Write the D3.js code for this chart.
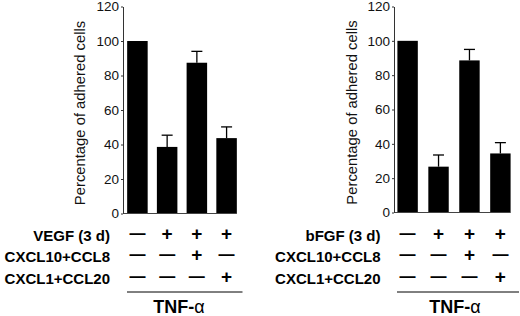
<!DOCTYPE html>
<html>
<head>
<meta charset="utf-8">
<script src="https://cdn.jsdelivr.net/npm/d3@7"></script>
<style>
  body { margin: 0; background: #fff; }
  svg { font-family: "Liberation Sans", Arial, sans-serif; }
</style>
</head>
<body>
<div id="container"></div>
<script>
/* DATA */
const conditions = ["c1", "c2", "c3", "c4"];
const yTicks = [0, 20, 40, 60, 80, 100, 120];
const rowLabels = ["CXCL10+CCL8", "CXCL1+CCL20"];
const row1 = ["—", "+", "+", "+"];
const row2 = ["—", "—", "+", "—"];
const row3 = ["—", "—", "—", "+"];

const vegfMean = [100, 38.6, 87.4, 43.7];
const vegfErr = [0, 6.8, 6.6, 6.5];
const bfgfMean = [100, 26.7, 88.6, 34.4];
const bfgfErr = [0, 6.8, 6.4, 6.3];

/* CONSTANTS */
const width = 520, height = 316;

const svg = d3.select("#container")
  .append("svg")
  .attr("width", width)
  .attr("height", height);

const panels = [
  {growth: "VEGF (3 d)", mean: vegfMean, err: vegfErr,
   xr: [123, 241], pin: 0.31, pout: 0.14, yr: [213.5, 6.5],
   labelEnd: 110, yLabelX: 85, lineX: [127, 242.5], tnfX: 179},
  {growth: "bFGF (3 d)", mean: bfgfMean, err: bfgfErr,
   xr: [394, 514], pin: 0.34, pout: 0.11, yr: [212.5, 6.5],
   labelEnd: 380.5, yLabelX: 357, lineX: [397, 519], tnfX: 455}
];

const rowY = [240.5, 262, 283.5];

panels.forEach(function(p) {
  // SCALES
  const xScale = d3.scaleBand()
    .domain(conditions)
    .range(p.xr)
    .paddingInner(p.pin)
    .paddingOuter(p.pout);

  const yScale = d3.scaleLinear()
    .domain([0, 120])
    .range(p.yr);

  const g = svg.append("g");

  // bars
  g.selectAll("rect.bar")
    .data(p.mean)
    .join("rect")
    .attr("class", "bar")
    .attr("x", (d, i) => xScale(conditions[i]))
    .attr("width", xScale.bandwidth())
    .attr("y", d => yScale(d))
    .attr("height", d => yScale(0) - yScale(d))
    .attr("fill", "#000");

  // error bars (upper only)
  const errData = p.mean.map((m, i) => ({m: m, e: p.err[i], c: conditions[i]}))
    .filter(d => d.e > 0);
  const cx = d => xScale(d.c) + xScale.bandwidth() / 2;
  g.selectAll("line.err")
    .data(errData)
    .join("line")
    .attr("x1", cx).attr("x2", cx)
    .attr("y1", d => yScale(d.m)).attr("y2", d => yScale(d.m + d.e))
    .attr("stroke", "#000").attr("stroke-width", 1.3);
  g.selectAll("line.cap")
    .data(errData)
    .join("line")
    .attr("x1", d => cx(d) - 5.5).attr("x2", d => cx(d) + 5.5)
    .attr("y1", d => yScale(d.m + d.e)).attr("y2", d => yScale(d.m + d.e))
    .attr("stroke", "#000").attr("stroke-width", 1.3);

  // baseline
  g.append("line")
    .attr("x1", p.xr[0]).attr("x2", xScale(conditions[3]) + xScale.bandwidth())
    .attr("y1", yScale(0)).attr("y2", yScale(0))
    .attr("stroke", "#444").attr("stroke-width", 1);

  // y axis
  const yAxis = g.append("g")
    .attr("transform", `translate(${p.xr[0]},0)`)
    .call(d3.axisLeft(yScale).tickValues(yTicks).tickSize(2).tickSizeOuter(0).tickPadding(2));
  yAxis.select(".domain").attr("stroke", "#333");
  yAxis.selectAll(".tick line").attr("stroke", "#333");
  yAxis.selectAll("text")
    .attr("font-size", 13.5)
    .attr("font-family", "Liberation Sans, Arial, sans-serif")
    .attr("fill", "#111");

  // y label
  g.append("text")
    .attr("transform", `translate(${p.yLabelX},${(p.yr[0] + p.yr[1]) / 2 + 3}) rotate(-90)`)
    .attr("text-anchor", "middle")
    .attr("font-size", 14.8)
    .attr("fill", "#111")
    .text("Percentage of adhered cells");

  // row labels
  const labels = [p.growth].concat(rowLabels);
  g.selectAll("text.rowlab")
    .data(labels)
    .join("text")
    .attr("class", "rowlab")
    .attr("x", p.labelEnd)
    .attr("y", (d, i) => rowY[i])
    .attr("text-anchor", "end")
    .attr("font-size", 15)
    .attr("font-weight", "bold")
    .text(d => d);

  // +/- symbols
  [row1, row2, row3].forEach(function(row, r) {
    g.selectAll("text.sym" + r)
      .data(row)
      .join("text")
      .attr("class", "sym" + r)
      .attr("x", (d, i) => xScale(conditions[i]) + xScale.bandwidth() / 2)
      .attr("y", d => d === "+" ? rowY[r] - 1 : rowY[r] - 2)
      .attr("text-anchor", "middle")
      .attr("font-size", d => d === "+" ? 19 : 16)
      .attr("font-weight", "bold")
      .text(d => d);
  });

  // TNF line and label
  g.append("line")
    .attr("x1", p.lineX[0]).attr("x2", p.lineX[1])
    .attr("y1", 292).attr("y2", 292)
    .attr("stroke", "#000").attr("stroke-width", 1);
  const tnf = g.append("text")
    .attr("x", p.tnfX)
    .attr("y", 313)
    .attr("text-anchor", "middle")
    .attr("font-size", 18)
    .attr("font-weight", "bold");
  tnf.append("tspan").text("TNF-");
  tnf.append("tspan").attr("font-weight", "normal").text("α");
});
</script>
</body>
</html>
